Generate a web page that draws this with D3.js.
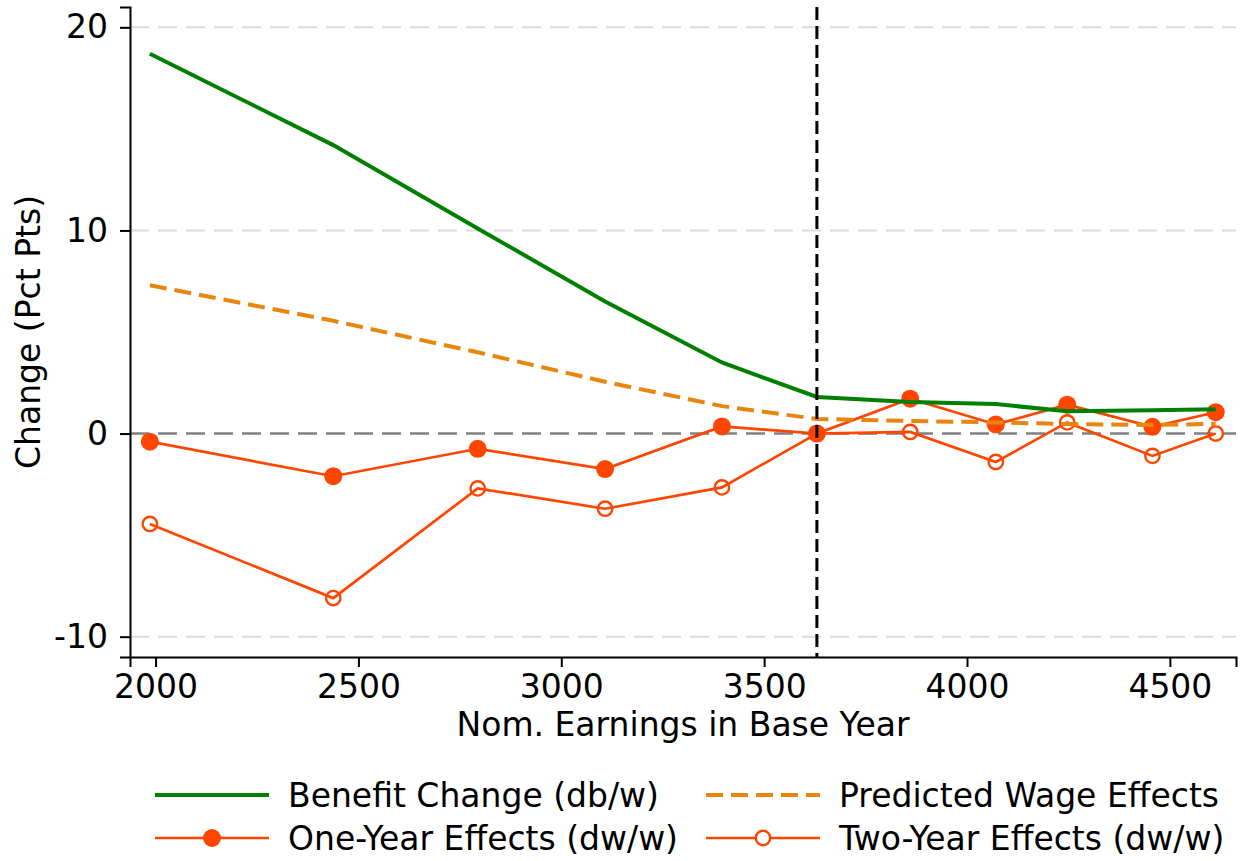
<!DOCTYPE html>
<html>
<head>
<meta charset="utf-8">
<script src="https://cdn.jsdelivr.net/npm/d3@7"></script>
<style>
  body { margin: 0; background: #fff; }
  svg { font-family: 'DejaVu Sans', sans-serif; }
  .axis path, .axis line { stroke: #000; stroke-width: 2; }
  .axis text { font-size: 33px; fill: #000; font-family: 'DejaVu Sans', sans-serif; }
</style>
</head>
<body>
<svg id="chart"></svg>
<script>
// Values
const earnings = [1986, 2438, 2794, 3108, 3396, 3630, 3860, 4071, 4247, 4457, 4613];
const benefitChange = [18.7, 14.2, 10.1, 6.5, 3.5, 1.8, 1.55, 1.45, 1.1, 1.15, 1.2];
const predictedWage = [7.3, 5.55, 4.0, 2.55, 1.35, 0.72, 0.62, 0.55, 0.47, 0.42, 0.48];
const oneYear = [-0.4, -2.1, -0.75, -1.75, 0.35, 0.0, 1.72, 0.45, 1.42, 0.33, 1.05];
const twoYear = [-4.45, -8.1, -2.7, -3.7, -2.65, 0.0, 0.08, -1.4, 0.55, -1.1, 0.0];
const xTicks = [2000, 2500, 3000, 3500, 4000, 4500];
const yTicks = [-10, 0, 10, 20];
const cutoff = 3630;

const series = [
  {name: 'Benefit Change (db/w)', values: benefitChange, color: '#008000', width: 4, dash: null, marker: null},
  {name: 'Predicted Wage Effects', values: predictedWage, color: '#e8850c', width: 4, dash: '17,8', marker: null},
  {name: 'One-Year Effects (dw/w)', values: oneYear, color: '#ff4500', width: 2.7, dash: null, marker: 'filled'},
  {name: 'Two-Year Effects (dw/w)', values: twoYear, color: '#ff4500', width: 2.7, dash: null, marker: 'open'}
];

const width = 1244, height = 861;
const margin = {top: 7, right: 8, bottom: 204, left: 130};
const innerW = width - margin.left - margin.right;
const innerH = height - margin.top - margin.bottom;

const svg = d3.select('#chart').attr('width', width).attr('height', height);
const chart = svg.append('g').attr('transform', `translate(${margin.left},${margin.top})`);

const xScale = d3.scaleLinear().domain([1937, 4663]).range([0, innerW]);
const yScale = d3.scaleLinear().domain([-11, 21]).range([innerH, 0]);

// grid lines
chart.selectAll('.grid')
    .data(yTicks.filter(d => d !== 0))
  .join('line')
    .attr('x1', 0).attr('x2', innerW)
    .attr('y1', d => yScale(d)).attr('y2', d => yScale(d))
    .attr('stroke', '#dcdcdc').attr('stroke-width', 2)
    .attr('stroke-dasharray', '19,9');

// zero line
chart.append('line')
    .attr('x1', 0).attr('x2', innerW)
    .attr('y1', yScale(0)).attr('y2', yScale(0))
    .attr('stroke', '#808080').attr('stroke-width', 2.5)
    .attr('stroke-dasharray', '19,9');

const line = d3.line().x((d, i) => xScale(earnings[i])).y(d => yScale(d));

// draw red series first, then orange and green on top
[series[3], series[2], series[1], series[0]].forEach(s => {
  chart.append('path')
      .datum(s.values)
      .attr('fill', 'none')
      .attr('stroke', s.color)
      .attr('stroke-width', s.width)
      .attr('stroke-dasharray', s.dash)
      .attr('d', line);
  if (s.marker) {
    chart.selectAll(null)
        .data(s.values)
      .join('circle')
        .attr('cx', (d, i) => xScale(earnings[i]))
        .attr('cy', d => yScale(d))
        .attr('r', s.marker === 'filled' ? 9 : 7.2)
        .attr('fill', s.marker === 'filled' ? s.color : 'none')
        .attr('stroke', s.color)
        .attr('stroke-width', s.marker === 'filled' ? 0 : 2.4);
  }
});

// cutoff line
chart.append('line')
    .attr('x1', xScale(cutoff)).attr('x2', xScale(cutoff))
    .attr('y1', 0).attr('y2', innerH)
    .attr('stroke', '#000').attr('stroke-width', 3)
    .attr('stroke-dasharray', '13,6');

// axes
const xAxis = d3.axisBottom(xScale).tickValues(xTicks).tickFormat(d => String(d))
    .tickSizeOuter(0).tickSize(10).tickPadding(8);
const yAxis = d3.axisLeft(yScale).tickValues(yTicks).tickFormat(d => String(d))
    .tickSizeOuter(0).tickSize(10).tickPadding(12);

chart.append('g')
    .attr('class', 'axis')
    .attr('transform', `translate(0,${innerH})`)
    .call(xAxis);

chart.append('g')
    .attr('class', 'axis')
    .call(yAxis);

// axis titles
svg.append('text')
    .attr('x', margin.left + innerW / 2)
    .attr('y', 736)
    .attr('text-anchor', 'middle')
    .style('font-size', '33px')
    .text('Nom. Earnings in Base Year');

svg.append('text')
    .attr('transform', `translate(40,${margin.top + innerH / 2}) rotate(-90)`)
    .attr('text-anchor', 'middle')
    .style('font-size', '33px')
    .text('Change (Pct Pts)');

// legend
const legendPos = [[155, 795], [706, 795], [155, 838], [706, 838]];
series.forEach((s, i) => {
  const [lx, ly] = legendPos[i];
  const g = svg.append('g').attr('transform', `translate(${lx},${ly})`);
  g.append('line')
      .attr('x1', 0).attr('x2', 114)
      .attr('stroke', s.color)
      .attr('stroke-width', s.width)
      .attr('stroke-dasharray', s.dash);
  if (s.marker) {
    g.append('circle')
        .attr('cx', 57)
        .attr('r', s.marker === 'filled' ? 9 : 7.2)
        .attr('fill', s.marker === 'filled' ? s.color : '#fff')
        .attr('stroke', s.color)
        .attr('stroke-width', s.marker === 'filled' ? 0 : 2.4);
  }
  g.append('text')
      .attr('x', 133)
      .attr('dy', '0.35em')
      .style('font-size', '33px')
      .text(s.name);
});
</script>
</body>
</html>
